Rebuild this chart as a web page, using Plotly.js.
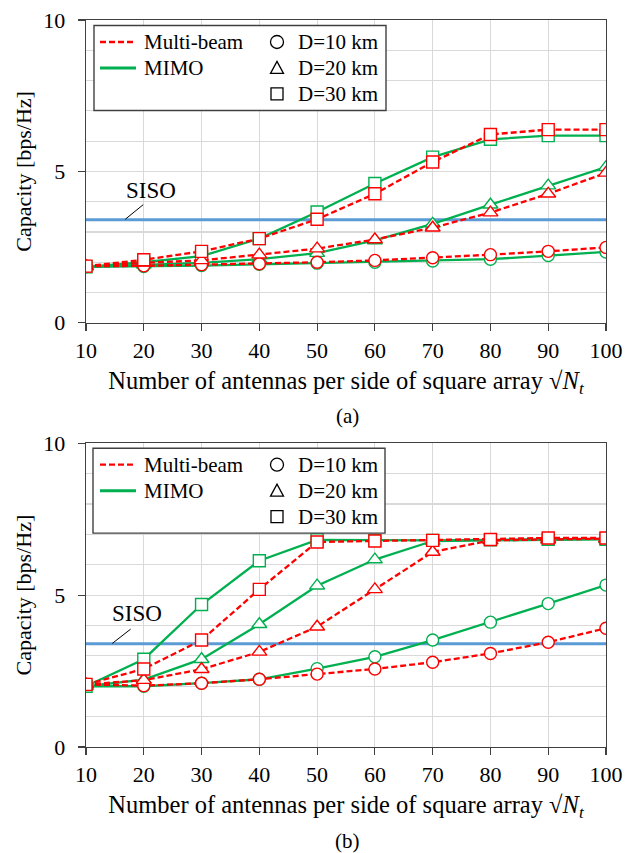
<!DOCTYPE html>
<html>
<head>
<meta charset="utf-8">
<script src="https://cdn.plot.ly/plotly-3.0.1.min.js"></script>
<style>html,body{margin:0;padding:0;background:#fff;}#chart{width:639px;height:853px;}</style>
</head>
<body>
<div id="chart"></div>
<script>
// ---- data ----
const antennas = [10, 20, 30, 40, 50, 60, 70, 80, 90, 100];
const sisoCapacity = 3.4;

// (a)
const a_multi_D10 = [1.87, 1.88, 1.92, 1.95, 2.0, 2.06, 2.15, 2.25, 2.36, 2.49];
const a_mimo_D10  = [1.85, 1.86, 1.89, 1.93, 1.97, 2.0, 2.04, 2.1, 2.22, 2.34];
const a_multi_D20 = [1.87, 1.98, 2.06, 2.25, 2.45, 2.75, 3.14, 3.64, 4.26, 4.95];
const a_mimo_D20  = [1.85, 1.92, 1.98, 2.1, 2.3, 2.72, 3.27, 3.9, 4.53, 5.14];
const a_multi_D30 = [1.87, 2.08, 2.36, 2.78, 3.42, 4.26, 5.31, 6.22, 6.38, 6.38];
const a_mimo_D30  = [1.85, 2.0, 2.2, 2.78, 3.66, 4.6, 5.47, 6.06, 6.18, 6.18];

// (b)
const b_multi_D10 = [2.06, 2.02, 2.1, 2.23, 2.4, 2.57, 2.79, 3.08, 3.45, 3.91];
const b_mimo_D10  = [2.0, 2.0, 2.1, 2.23, 2.58, 2.97, 3.52, 4.11, 4.72, 5.33];
const b_multi_D20 = [2.06, 2.2, 2.56, 3.13, 3.96, 5.19, 6.42, 6.8, 6.84, 6.86];
const b_mimo_D20  = [2.0, 2.22, 2.89, 4.04, 5.31, 6.17, 6.78, 6.8, 6.82, 6.84];
const b_multi_D30 = [2.06, 2.57, 3.52, 5.19, 6.75, 6.78, 6.8, 6.83, 6.88, 6.88];
const b_mimo_D30  = [2.0, 2.89, 4.69, 6.13, 6.82, 6.8, 6.8, 6.82, 6.84, 6.84];

const schemeNames = ['Multi-beam', 'MIMO'];
const distNames = ['D=10 km', 'D=20 km', 'D=30 km'];
const panelLabels = ['(a)', '(b)'];
const xTitle = 'Number of antennas per side of square array √<i>N</i><sub><i>t</i></sub>';
const yTitle = 'Capacity [bps/Hz]';

// ---- styles ----
const FONT = 'Liberation Serif, Times New Roman, serif';
const RED = '#ff0000', GREEN = '#00b050', BLUE = '#5b9bd5';
const GRID = '#d9d9d9', AXIS = '#404040';
const symbols = ['circle', 'triangle-up', 'square'];
const msize = [12, 13, 12];

function series(xa, ya, y, color, dashed, sym, size) {
  return {
    x: antennas, y: y, xaxis: xa, yaxis: ya, type: 'scatter', mode: 'lines+markers',
    showlegend: false, hoverinfo: 'skip',
    line: {color: color, width: 2.3, dash: dashed ? '6px,3px' : 'solid'},
    marker: {symbol: sym, size: size, color: '#ffffff', line: {color: color, width: 1.4}}
  };
}

const traces = [];
function addPanel(xa, ya, mimo, multi) {
  traces.push({x: [antennas[0], antennas[antennas.length - 1]], y: [sisoCapacity, sisoCapacity],
    xaxis: xa, yaxis: ya, mode: 'lines', showlegend: false, hoverinfo: 'skip',
    line: {color: BLUE, width: 3}});
  for (let i = 0; i < 3; i++) traces.push(series(xa, ya, mimo[i], GREEN, false, symbols[i], msize[i]));
  for (let i = 0; i < 3; i++) traces.push(series(xa, ya, multi[i], RED, true, symbols[i], msize[i]));
}
addPanel('x', 'y', [a_mimo_D10, a_mimo_D20, a_mimo_D30], [a_multi_D10, a_multi_D20, a_multi_D30]);
addPanel('x2', 'y2', [b_mimo_D10, b_mimo_D20, b_mimo_D30], [b_multi_D10, b_multi_D20, b_multi_D30]);

// ---- layout helpers ----
const H = 853, T = 19.5, B = 106;
const plotH = H - T - B;
function py(pix) { return (H - B - pix) / plotH; }   // pixel y -> paper
const L = 86, R = 33, plotW = 639 - L - R;
function px(pix) { return (pix - L) / plotW; }

function xaxis(anchor) {
  return {anchor: anchor, range: [10, 100], tick0: 10, dtick: 10, showgrid: true, gridcolor: GRID, gridwidth: 1.2,
    zeroline: false, showline: true, mirror: true, linecolor: AXIS, linewidth: 1.4,
    ticks: 'outside', ticklen: 7, tickcolor: AXIS, tickwidth: 1.2,
    tickfont: {family: FONT, size: 22, color: '#000'},
    title: {text: xTitle, font: {family: FONT, size: 24.5, color: '#000'}, standoff: 10}};
}
function yaxis(domain, anchor) {
  return {domain: domain, anchor: anchor, range: [0, 10], tick0: 0, dtick: 5, showgrid: true, gridcolor: GRID, gridwidth: 1.2,
    minor: {dtick: 1, showgrid: true, gridcolor: GRID, gridwidth: 1.2, ticks: ''},
    zeroline: false, showline: true, mirror: true, linecolor: AXIS, linewidth: 1.4,
    ticks: 'outside', ticklen: 7, tickcolor: AXIS, tickwidth: 1.2, ticklabelstandoff: 8,
    tickfont: {family: FONT, size: 22, color: '#000'},
    title: {text: yTitle, font: {family: FONT, size: 22, color: '#000'}, standoff: 5}};
}

// ---- custom legend (box, samples, labels) ----
const shapes = [], annotations = [];
function legendBlock(dy, boxL, boxR, boxT, boxB) {
  shapes.push({type: 'rect', xref: 'paper', yref: 'paper', x0: px(boxL), x1: px(boxR), y0: py(boxB), y1: py(boxT),
    line: {color: AXIS, width: 1.4}, fillcolor: '#ffffff', layer: 'above'});
  const rows = [41.5 + dy, 67.5 + dy, 93.5 + dy];
  shapes.push({type: 'line', xref: 'paper', yref: 'paper', x0: px(100), x1: px(136), y0: py(rows[0]), y1: py(rows[0]),
    line: {color: RED, width: 2.3, dash: '6px,3px'}, layer: 'above'});
  shapes.push({type: 'line', xref: 'paper', yref: 'paper', x0: px(100), x1: px(136), y0: py(rows[1]), y1: py(rows[1]),
    line: {color: GREEN, width: 3}, layer: 'above'});
  for (let i = 0; i < 2; i++) {
    annotations.push({text: schemeNames[i], xref: 'paper', yref: 'paper', x: px(142), y: py(rows[i]),
      xanchor: 'left', yanchor: 'middle', showarrow: false, font: {family: FONT, size: 21, color: '#000'}});
  }
  const mx = px(277);
  shapes.push({type: 'circle', xref: 'paper', yref: 'paper', xsizemode: 'pixel', ysizemode: 'pixel',
    xanchor: mx, yanchor: py(rows[0]), x0: -6.5, x1: 6.5, y0: -6.5, y1: 6.5,
    line: {color: '#000', width: 1.3}, fillcolor: 'rgba(0,0,0,0)', layer: 'above'});
  shapes.push({type: 'path', xref: 'paper', yref: 'paper', xsizemode: 'pixel', ysizemode: 'pixel',
    xanchor: mx, yanchor: py(rows[1]), path: 'M-6.5,-5.5 L6.5,-5.5 L0,6.5 Z',
    line: {color: '#000', width: 1.3}, fillcolor: 'rgba(0,0,0,0)', layer: 'above'});
  shapes.push({type: 'rect', xref: 'paper', yref: 'paper', xsizemode: 'pixel', ysizemode: 'pixel',
    xanchor: mx, yanchor: py(rows[2]), x0: -6, x1: 6, y0: -6, y1: 6,
    line: {color: '#000', width: 1.3}, fillcolor: 'rgba(0,0,0,0)', layer: 'above'});
  for (let i = 0; i < 3; i++) {
    annotations.push({text: distNames[i], xref: 'paper', yref: 'paper', x: px(296), y: py(rows[i]),
      xanchor: 'left', yanchor: 'middle', showarrow: false, font: {family: FONT, size: 21, color: '#000'}});
  }
}
legendBlock(0, 94, 386, 25, 110);
legendBlock(423, 93, 385, 448, 533);

// SISO pointers and labels
shapes.push({type: 'line', xref: 'x', yref: 'y', x0: 16.8, y0: 3.42, x1: 19.9, y1: 3.9, line: {color: '#000', width: 1}});
shapes.push({type: 'line', xref: 'x2', yref: 'y2', x0: 14.55, y0: 3.41, x1: 17.73, y1: 3.88, line: {color: '#000', width: 1}});
annotations.push({text: 'SISO', xref: 'x', yref: 'y', x: 21.2, y: 4.36, xanchor: 'center', yanchor: 'middle', showarrow: false, font: {family: FONT, size: 23}});
annotations.push({text: 'SISO', xref: 'x2', yref: 'y2', x: 18.9, y: 4.38, xanchor: 'center', yanchor: 'middle', showarrow: false, font: {family: FONT, size: 23}});
annotations.push({text: panelLabels[0], xref: 'paper', yref: 'paper', x: px(347), y: py(416), xanchor: 'center', yanchor: 'middle', showarrow: false, font: {family: FONT, size: 21}});
annotations.push({text: panelLabels[1], xref: 'paper', yref: 'paper', x: px(347), y: py(841), xanchor: 'center', yanchor: 'middle', showarrow: false, font: {family: FONT, size: 21}});

const layout = {
  width: 639, height: 853, paper_bgcolor: '#fff', plot_bgcolor: '#fff',
  margin: {l: L, r: R, t: T, b: B},
  font: {family: FONT, size: 21, color: '#000'},
  showlegend: false,
  xaxis: xaxis('y'), yaxis: yaxis([py(322.5), 1], 'x'),
  xaxis2: xaxis('y2'), yaxis2: yaxis([0, py(443)], 'x2'),
  shapes: shapes,
  annotations: annotations
};

Plotly.newPlot('chart', traces, layout, {staticPlot: true, displayModeBar: false});
</script>
</body>
</html>
